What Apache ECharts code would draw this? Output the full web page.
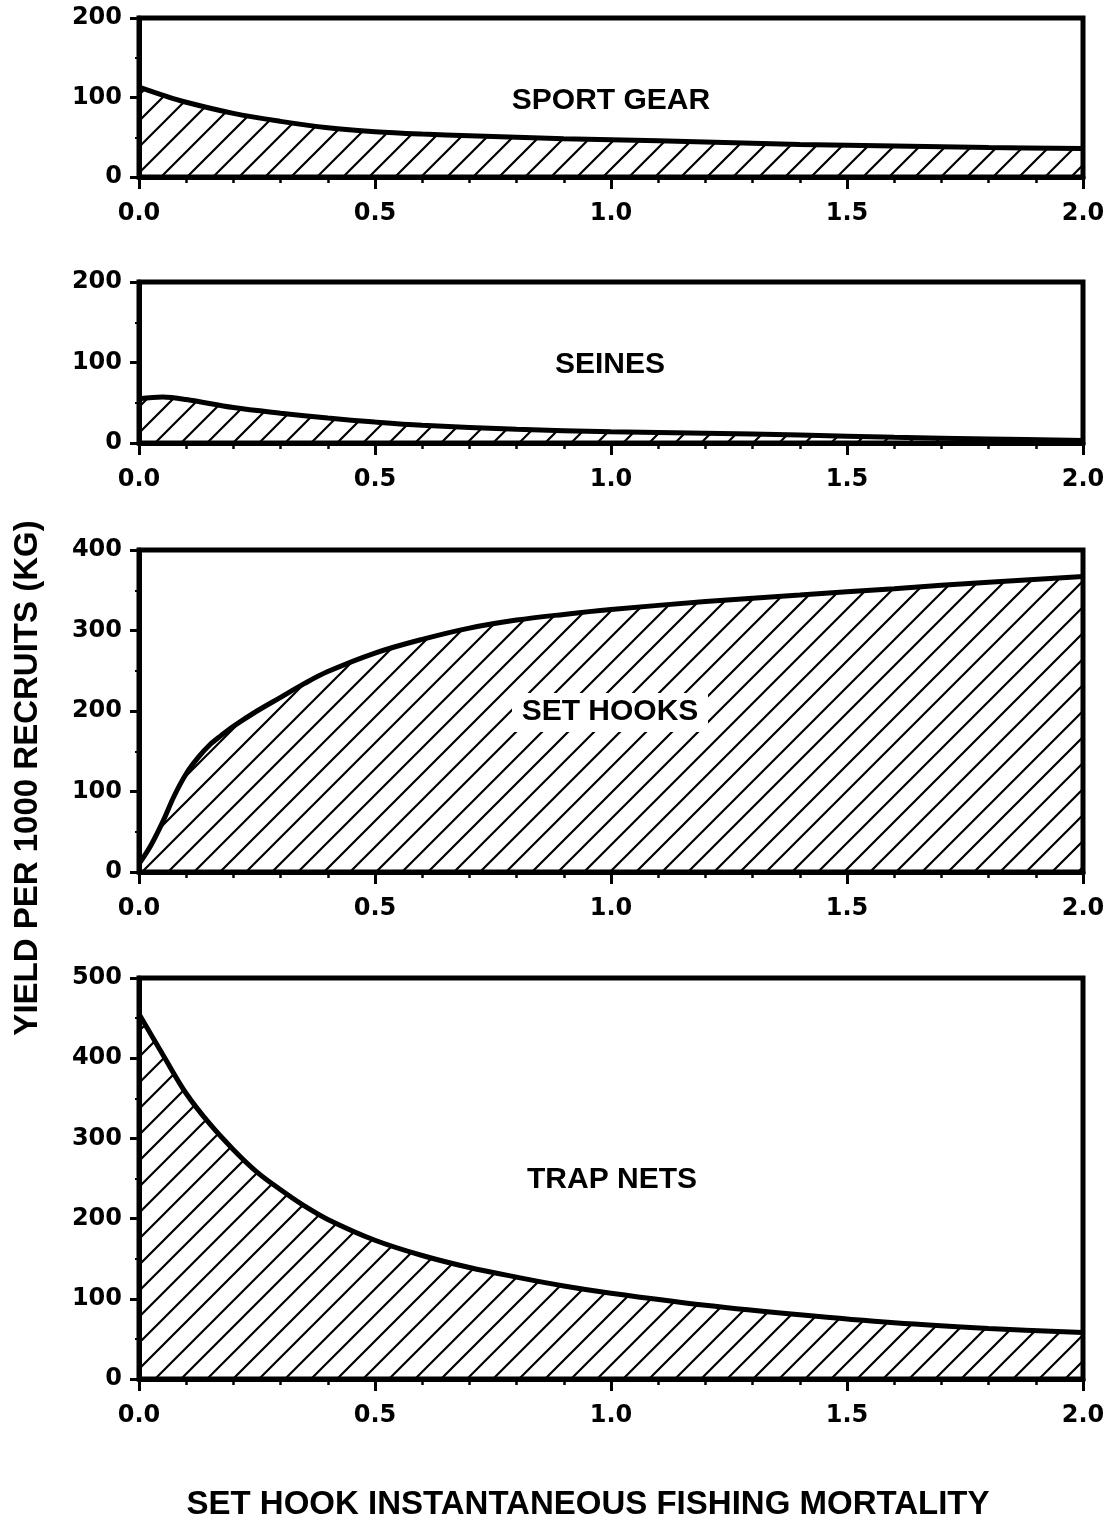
<!DOCTYPE html>
<html><head><meta charset="utf-8">
<script src="https://cdn.jsdelivr.net/npm/echarts@6/dist/echarts.min.js"></script>
<style>html,body{margin:0;padding:0;background:#fff}#c{width:1119px;height:1522px}</style>
</head><body><div id="c"></div>
<script>
// ---- data ----
const panelNames = ['SPORT GEAR', 'SEINES', 'SET HOOKS', 'TRAP NETS'];
const yMaxes = [200, 200, 400, 500];

const sportX = [0, 0.05, 0.1, 0.2, 0.3, 0.4, 0.5, 0.6, 0.7, 0.8, 0.9, 1.0, 1.2, 1.4, 1.6, 1.8, 2.0];
const sportY = [113, 103, 94, 80, 70, 62, 57, 54, 52, 50, 48, 47, 44, 41, 39, 37, 36];

const seinesX = [0, 0.05, 0.1, 0.2, 0.3, 0.4, 0.5, 0.6, 0.8, 1.0, 1.2, 1.4, 1.6, 1.8, 2.0];
const seinesY = [55, 57, 54, 44, 37, 31, 26, 22, 17, 14, 12, 10, 7, 5, 3];

const hooksX = [0, 0.025, 0.05, 0.075, 0.1, 0.125, 0.15, 0.175, 0.2, 0.25, 0.3, 0.35, 0.4, 0.5, 0.6, 0.7, 0.8, 0.9, 1.0, 1.2, 1.4, 1.6, 1.8, 2.0];
const hooksY = [10, 33, 62, 95, 122, 142, 158, 170, 181, 200, 217, 234, 249, 272, 289, 303, 313, 320, 326, 336, 344, 352, 360, 367];

const trapX = [0, 0.05, 0.1, 0.15, 0.2, 0.25, 0.3, 0.35, 0.4, 0.5, 0.6, 0.7, 0.8, 0.9, 1.0, 1.2, 1.4, 1.6, 1.8, 2.0];
const trapY = [455, 405, 356, 318, 286, 258, 236, 216, 199, 173, 154, 139, 127, 116, 107, 92, 80, 70, 63, 58];

const xTitle = 'SET HOOK INSTANTANEOUS FISHING MORTALITY';
const yTitle = 'YIELD PER 1000 RECRUITS (KG)';

// ---- hatch pattern ----
function hatch(size, lw) {
  const c = document.createElement('canvas');
  c.width = size; c.height = size;
  const g = c.getContext('2d');
  g.strokeStyle = '#000'; g.lineWidth = lw; g.lineCap = 'square';
  for (let k = -1; k <= 1; k++) {
    g.beginPath();
    g.moveTo(k * size, size);
    g.lineTo(k * size + size, 0);
    g.stroke();
  }
  return c;
}
const pat = { image: hatch(26, 2.2), repeat: 'repeat' };

const allX = [sportX, seinesX, hooksX, trapX];
const allY = [sportY, seinesY, hooksY, trapY];
const grids = [
  { left: 139, right: 36, top: 18, height: 159 },
  { left: 139, right: 36, top: 282, height: 161 },
  { left: 139, right: 36, top: 550, height: 322 },
  { left: 139, right: 36, top: 978, height: 401 }
];
const labelPos = [[611, 101], [610, 365], [610, 712], [612, 1180]];

const tickFont = { fontFamily: 'DejaVu Sans', fontWeight: 'bold', fontSize: 24, color: '#000' };

const option = {
  backgroundColor: '#fff',
  animation: false,
  grid: grids.map(g => Object.assign({ show: true, borderColor: '#000', borderWidth: 5, backgroundColor: 'transparent' }, g)),
  xAxis: grids.map((g, i) => ({
    type: 'value', gridIndex: i, min: 0, max: 2, interval: 0.5,
    axisLine: { show: true, onZero: false, lineStyle: { color: '#000', width: 5 } },
    axisTick: { show: true, length: 12, lineStyle: { color: '#000', width: 3 } },
    minorTick: { show: true, splitNumber: 5, length: 6, lineStyle: { color: '#000', width: 2.5 } },
    splitLine: { show: false },
    axisLabel: Object.assign({ margin: 25, formatter: v => v.toFixed(1) }, tickFont)
  })),
  yAxis: grids.map((g, i) => ({
    type: 'value', gridIndex: i, min: 0, max: yMaxes[i], interval: 100,
    axisLine: { show: true, onZero: false, lineStyle: { color: '#000', width: 5 } },
    axisTick: { show: true, length: 9, lineStyle: { color: '#000', width: 3 } },
    minorTick: { show: true, splitNumber: 2, length: 4, lineStyle: { color: '#000', width: 2 } },
    splitLine: { show: false },
    axisLabel: Object.assign({ margin: 17 }, tickFont)
  })),
  series: allX.map((xs, i) => ({
    type: 'line', xAxisIndex: i, yAxisIndex: i,
    data: xs.map((x, j) => [x, allY[i][j]]),
    smooth: 0.35,
    symbol: 'none',
    lineStyle: { color: '#000', width: 5 },
    areaStyle: { color: pat, opacity: 1 },
    z: 2
  })),
  graphic: [
    { type: 'rect', z: 100, shape: { x: 512, y: 693, width: 196, height: 39 }, style: { fill: '#fff' } },
    ...panelNames.map((n, i) => ({
      type: 'text', z: 101, x: labelPos[i][0], y: labelPos[i][1],
      style: { text: n, textAlign: 'center', textVerticalAlign: 'middle',
        font: 'bold 30px "Liberation Sans", Arial, sans-serif', fill: '#000' }
    })),
    { type: 'text', z: 101, x: 588, y: 1505,
      style: { text: xTitle, textAlign: 'center', textVerticalAlign: 'middle',
        font: 'bold 33px "Liberation Sans", Arial, sans-serif', fill: '#000' } },
    { type: 'text', z: 101, x: 28, y: 778, rotation: Math.PI / 2,
      style: { text: yTitle, textAlign: 'center', textVerticalAlign: 'middle',
        font: 'bold 33px "Liberation Sans", Arial, sans-serif', fill: '#000' } }
  ]
};

const chart = echarts.init(document.getElementById('c'), null, { renderer: 'canvas' });
chart.setOption(option);
</script>
</body></html>
